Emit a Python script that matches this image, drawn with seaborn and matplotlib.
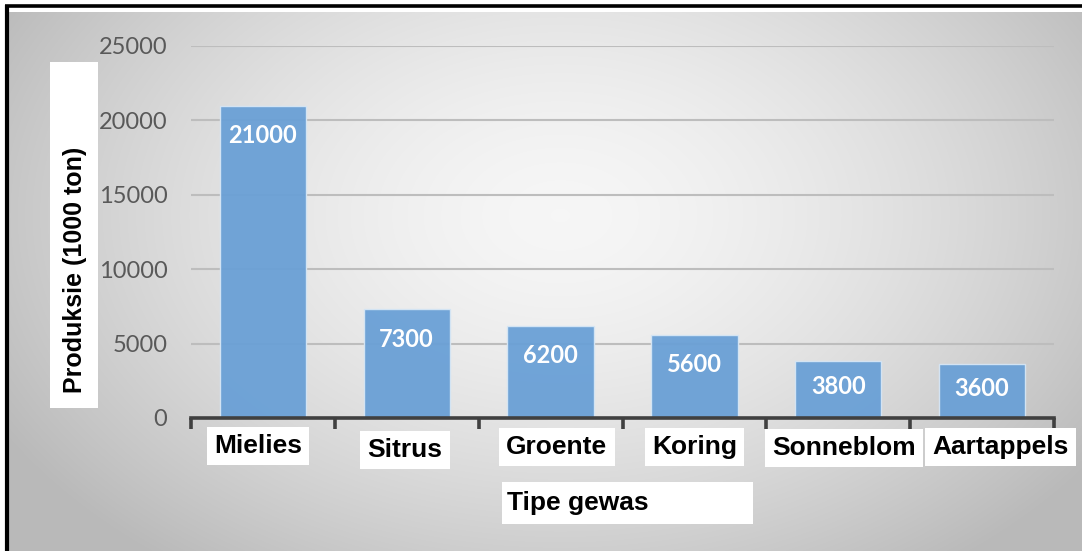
import numpy as np
import matplotlib
matplotlib.use("Agg")
import matplotlib.pyplot as plt
import seaborn as sns
from matplotlib.patches import Rectangle

# ---- data ----
categories = ["Mielies", "Sitrus", "Groente", "Koring", "Sonneblom", "Aartappels"]
values = [21000, 7300, 6200, 5600, 3800, 3600]
y_ticks = [0, 5000, 10000, 15000, 20000, 25000]
y_label = "Produksie (1000 ton)"
x_label = "Tipe gewas"

plt.rcParams['font.family'] = ['Lato', 'DejaVu Sans']

W, H = 1082, 551
fig = plt.figure(figsize=(W / 100, H / 100), dpi=100)
fig.patch.set_facecolor('white')

# background layer in pixel coordinates
bg = fig.add_axes([0, 0, 1, 1])
bg.set_xlim(0, W)
bg.set_ylim(H, 0)
bg.axis('off')
yy, xx = np.mgrid[0:H, 0:W]
r = np.sqrt(((xx - 560) / 560.0) ** 2 + ((yy - 215) / 380.0) ** 2)
r = np.clip(r, 0, 1.15)
g = 0.965 - 0.19 * r ** 1.6
img = np.dstack([g, g, g])
bg.imshow(img[12:, 9:], extent=[9, W, H, 12], aspect='auto', zorder=0, interpolation='bilinear')
bg.plot([5, W], [6, 6], color='black', lw=2.6, solid_capstyle='butt', zorder=2)
bg.plot([6.5, 6.5], [5, H], color='black', lw=3.0, solid_capstyle='butt', zorder=2)
# y-label box
bg.add_patch(Rectangle((50, 62), 48, 346, facecolor='white', edgecolor='none', zorder=3))
bg.text(75, 270, y_label, rotation=90, ha='center', va='center', fontsize=18,
        fontweight='bold', family=['Liberation Sans', 'DejaVu Sans'], color='black', zorder=4)
# x-label box
bg.add_patch(Rectangle((502, 482), 251, 42, facecolor='white', edgecolor='none', zorder=3))
bg.text(507, 503, x_label, ha='left', va='center', fontsize=19,
        fontweight='bold', family=['Liberation Sans', 'DejaVu Sans'], color='black', zorder=4)

# main axes
ax = fig.add_axes([191 / W, 1 - 418 / H, (1054 - 191) / W, (418 - 46) / H])
ax.set_facecolor('none')
sns.barplot(x=categories, y=values, color='#6aa0d6', saturation=1, width=0.6, ax=ax,
            edgecolor='#d6e6f5', linewidth=1.0, alpha=0.95, zorder=2)
ax.set_ylim(0, 25000)
ax.set_xlim(-0.5, len(categories) - 0.5)
ax.set_yticks(y_ticks)
ax.set_yticklabels([str(t) for t in y_ticks])
ax.set_xlabel('')
ax.set_ylabel('')
for s in ['top', 'right', 'left']:
    ax.spines[s].set_visible(False)
ax.spines['bottom'].set_color('#404040')
ax.spines['bottom'].set_linewidth(2.6)
ax.spines['bottom'].set_zorder(5)
ax.yaxis.grid(True, color='#bdbdbd', linewidth=1.5, zorder=1)
ax.set_axisbelow(True)
ax.tick_params(axis='y', length=0, pad=17, labelsize=17, labelcolor='#595959')
ax.set_xticks(range(len(categories)))
ax.set_xticklabels([])
ax.tick_params(axis='x', which='major', length=0)
ax.set_xticks(np.arange(-0.5, len(categories)), minor=True)
ax.tick_params(axis='x', which='minor', length=8, width=2.6, color='#404040', direction='out')

# value labels inside bars
for i, v in enumerate(values):
    hpx = v / 25000 * 372
    off = min(30, 0.44 * hpx)
    ax.annotate(str(v), xy=(i, v), xytext=(0, -off), textcoords='offset pixels',
                ha='center', va='center', color='white', fontsize=17, fontweight='bold', zorder=6)

# category labels in white boxes
dx = [-5, -2, 6, 0, 6, 18]
dy = [28, 32, 29, 29, 30, 29]
for i, c in enumerate(categories):
    ax.annotate(c, xy=(i, 0), xycoords=('data', 'axes fraction'), xytext=(dx[i], -dy[i]),
                textcoords='offset pixels', ha='center', va='center', fontsize=19,
                fontweight='bold', family=['Liberation Sans', 'DejaVu Sans'], color='black',
                bbox=dict(boxstyle='square,pad=0.28', facecolor='white', edgecolor='none'),
                annotation_clip=False, zorder=6)

fig.savefig('out.png', dpi=100)
